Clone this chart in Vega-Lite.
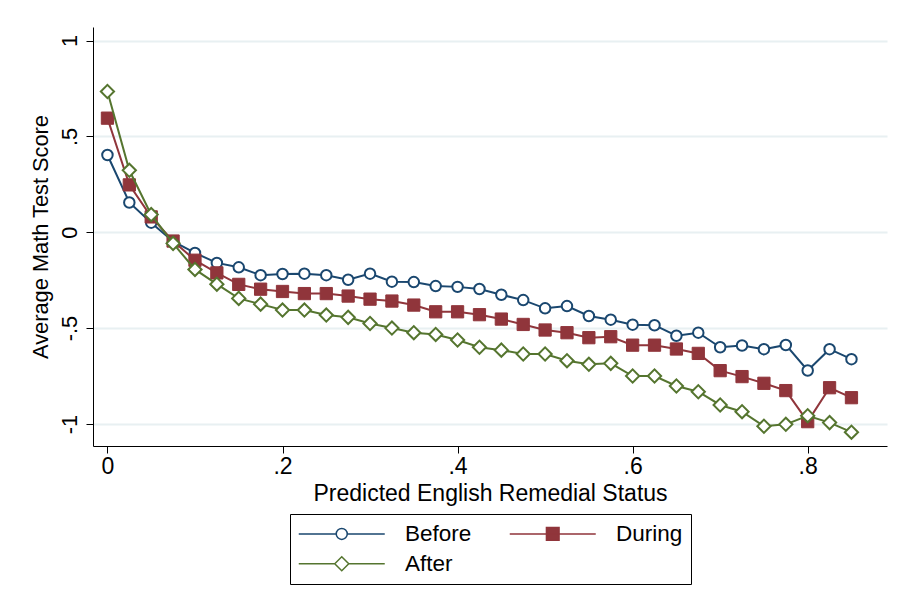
{
  "$schema": "https://vega.github.io/schema/vega-lite/v6.json",
  "autosize": {"type": "none"},
  "padding": {"left": 93, "top": 27, "right": 15, "bottom": 160},
  "width": 794,
  "height": 419,
  "background": "white",
  "data": {
    "values": [
      {"p": 0, "g": "Before", "v": 0.403},
      {"p": 0.025, "g": "Before", "v": 0.155},
      {"p": 0.05, "g": "Before", "v": 0.05},
      {"p": 0.075, "g": "Before", "v": -0.048},
      {"p": 0.1, "g": "Before", "v": -0.108},
      {"p": 0.125, "g": "Before", "v": -0.16},
      {"p": 0.15, "g": "Before", "v": -0.183},
      {"p": 0.175, "g": "Before", "v": -0.224},
      {"p": 0.2, "g": "Before", "v": -0.218},
      {"p": 0.225, "g": "Before", "v": -0.216},
      {"p": 0.25, "g": "Before", "v": -0.224},
      {"p": 0.275, "g": "Before", "v": -0.248},
      {"p": 0.3, "g": "Before", "v": -0.216},
      {"p": 0.325, "g": "Before", "v": -0.258},
      {"p": 0.35, "g": "Before", "v": -0.26},
      {"p": 0.375, "g": "Before", "v": -0.281},
      {"p": 0.4, "g": "Before", "v": -0.285},
      {"p": 0.425, "g": "Before", "v": -0.296},
      {"p": 0.45, "g": "Before", "v": -0.326},
      {"p": 0.475, "g": "Before", "v": -0.354},
      {"p": 0.5, "g": "Before", "v": -0.397},
      {"p": 0.525, "g": "Before", "v": -0.385},
      {"p": 0.55, "g": "Before", "v": -0.437},
      {"p": 0.575, "g": "Before", "v": -0.456},
      {"p": 0.6, "g": "Before", "v": -0.482},
      {"p": 0.625, "g": "Before", "v": -0.485},
      {"p": 0.65, "g": "Before", "v": -0.54},
      {"p": 0.675, "g": "Before", "v": -0.524},
      {"p": 0.7, "g": "Before", "v": -0.6},
      {"p": 0.725, "g": "Before", "v": -0.591},
      {"p": 0.75, "g": "Before", "v": -0.61},
      {"p": 0.775, "g": "Before", "v": -0.588},
      {"p": 0.8, "g": "Before", "v": -0.721},
      {"p": 0.825, "g": "Before", "v": -0.61},
      {"p": 0.85, "g": "Before", "v": -0.662},
      {"p": 0, "g": "During", "v": 0.595},
      {"p": 0.025, "g": "During", "v": 0.247},
      {"p": 0.05, "g": "During", "v": 0.08},
      {"p": 0.075, "g": "During", "v": -0.046},
      {"p": 0.1, "g": "During", "v": -0.146},
      {"p": 0.125, "g": "During", "v": -0.212},
      {"p": 0.15, "g": "During", "v": -0.272},
      {"p": 0.175, "g": "During", "v": -0.297},
      {"p": 0.2, "g": "During", "v": -0.309},
      {"p": 0.225, "g": "During", "v": -0.32},
      {"p": 0.25, "g": "During", "v": -0.32},
      {"p": 0.275, "g": "During", "v": -0.333},
      {"p": 0.3, "g": "During", "v": -0.349},
      {"p": 0.325, "g": "During", "v": -0.359},
      {"p": 0.35, "g": "During", "v": -0.38},
      {"p": 0.375, "g": "During", "v": -0.415},
      {"p": 0.4, "g": "During", "v": -0.415},
      {"p": 0.425, "g": "During", "v": -0.43},
      {"p": 0.45, "g": "During", "v": -0.453},
      {"p": 0.475, "g": "During", "v": -0.481},
      {"p": 0.5, "g": "During", "v": -0.51},
      {"p": 0.525, "g": "During", "v": -0.524},
      {"p": 0.55, "g": "During", "v": -0.55},
      {"p": 0.575, "g": "During", "v": -0.545},
      {"p": 0.6, "g": "During", "v": -0.589},
      {"p": 0.625, "g": "During", "v": -0.589},
      {"p": 0.65, "g": "During", "v": -0.609},
      {"p": 0.675, "g": "During", "v": -0.632},
      {"p": 0.7, "g": "During", "v": -0.722},
      {"p": 0.725, "g": "During", "v": -0.753},
      {"p": 0.75, "g": "During", "v": -0.788},
      {"p": 0.775, "g": "During", "v": -0.826},
      {"p": 0.8, "g": "During", "v": -0.988},
      {"p": 0.825, "g": "During", "v": -0.811},
      {"p": 0.85, "g": "During", "v": -0.863},
      {"p": 0, "g": "After", "v": 0.734},
      {"p": 0.025, "g": "After", "v": 0.323},
      {"p": 0.05, "g": "After", "v": 0.092},
      {"p": 0.075, "g": "After", "v": -0.058},
      {"p": 0.1, "g": "After", "v": -0.194},
      {"p": 0.125, "g": "After", "v": -0.271},
      {"p": 0.15, "g": "After", "v": -0.345},
      {"p": 0.175, "g": "After", "v": -0.375},
      {"p": 0.2, "g": "After", "v": -0.406},
      {"p": 0.225, "g": "After", "v": -0.406},
      {"p": 0.25, "g": "After", "v": -0.432},
      {"p": 0.275, "g": "After", "v": -0.444},
      {"p": 0.3, "g": "After", "v": -0.476},
      {"p": 0.325, "g": "After", "v": -0.5},
      {"p": 0.35, "g": "After", "v": -0.524},
      {"p": 0.375, "g": "After", "v": -0.533},
      {"p": 0.4, "g": "After", "v": -0.562},
      {"p": 0.425, "g": "After", "v": -0.6},
      {"p": 0.45, "g": "After", "v": -0.615},
      {"p": 0.475, "g": "After", "v": -0.635},
      {"p": 0.5, "g": "After", "v": -0.635},
      {"p": 0.525, "g": "After", "v": -0.67},
      {"p": 0.55, "g": "After", "v": -0.689},
      {"p": 0.575, "g": "After", "v": -0.684},
      {"p": 0.6, "g": "After", "v": -0.75},
      {"p": 0.625, "g": "After", "v": -0.75},
      {"p": 0.65, "g": "After", "v": -0.802},
      {"p": 0.675, "g": "After", "v": -0.832},
      {"p": 0.7, "g": "After", "v": -0.901},
      {"p": 0.725, "g": "After", "v": -0.936},
      {"p": 0.75, "g": "After", "v": -1.012},
      {"p": 0.775, "g": "After", "v": -1.002},
      {"p": 0.8, "g": "After", "v": -0.957},
      {"p": 0.825, "g": "After", "v": -0.993},
      {"p": 0.85, "g": "After", "v": -1.043}
    ]
  },
  "encoding": {
    "x": {
      "field": "p", "type": "quantitative",
      "scale": {"domain": [-0.0165, 0.8906], "nice": false, "zero": false},
      "axis": {
        "values": [0, 0.2, 0.4, 0.6, 0.8],
        "labelExpr": "replace(toString(datum.value), '0.', '.')",
        "grid": false,
        "title": "Predicted English Remedial Status",
        "labelFontSize": 23,
        "labelBaseline": "alphabetic",
        "labelPadding": 20,
        "titleFontSize": 23,
        "titleBaseline": "alphabetic",
        "titleY": 54
      }
    },
    "y": {
      "field": "v", "type": "quantitative",
      "scale": {"domain": [-1.115, 1.0705], "nice": false, "zero": false},
      "axis": {
        "values": [-1, -0.5, 0, 0.5, 1],
        "labelExpr": "replace(toString(datum.value), '0.', '.')",
        "grid": true,
        "title": "Average Math Test Score",
        "labelAngle": -90,
        "labelAlign": "center",
        "labelBaseline": "alphabetic",
        "labelPadding": 10,
        "labelFontSize": 21.8,
        "titleFontSize": 21.8,
        "titleAngle": -90,
        "titleBaseline": "alphabetic",
        "titleX": -46
      }
    }
  },
  "layer": [
    {
      "transform": [{"filter": "datum.g === 'Before'"}],
      "mark": {"type": "line", "strokeWidth": 2, "color": "#1a476f"},
      "encoding": {}
    },
    {
      "transform": [{"filter": "datum.g === 'Before'"}],
      "mark": {"type": "point", "shape": "circle", "size": 110, "filled": false, "stroke": "#1a476f", "fill": "white", "strokeWidth": 2, "opacity": 1},
      "encoding": {}
    },
    {
      "transform": [{"filter": "datum.g === 'During'"}],
      "mark": {"type": "line", "strokeWidth": 2, "color": "#90353b"},
      "encoding": {}
    },
    {
      "transform": [{"filter": "datum.g === 'During'"}],
      "mark": {"type": "point", "shape": "square", "size": 150, "filled": true, "fill": "#90353b", "stroke": "#90353b", "strokeWidth": 1, "opacity": 1},
      "encoding": {}
    },
    {
      "transform": [{"filter": "datum.g === 'After'"}],
      "mark": {"type": "line", "strokeWidth": 2, "color": "#55752f"},
      "encoding": {}
    },
    {
      "transform": [{"filter": "datum.g === 'After'"}],
      "mark": {"type": "point", "shape": "diamond", "size": 175, "filled": false, "stroke": "#55752f", "fill": "white", "strokeWidth": 2, "opacity": 1},
      "encoding": {}
    },
    {
      "mark": {"type": "point", "opacity": 0, "strokeWidth": 1.5},
      "encoding": {
        "shape": {
          "field": "g", "type": "nominal",
          "scale": {"domain": ["Before", "During", "After"], "range": [
            "M-8.6,0L-1.1,0M1.1,0L8.6,0M-1.1,0A1.1,1.1,0,1,1,1.1,0A1.1,1.1,0,1,1,-1.1,0Z",
            "M-8.6,0L8.6,0M-1.26,-1.26L1.26,-1.26L1.26,1.26L-1.26,1.26Z",
            "M-8.6,0L-1.4,0M1.4,0L8.6,0M-1.4,0L0,-1.4L1.4,0L0,1.4Z"
          ]},
          "legend": {"title": null}
        },
        "fill": {
          "field": "g", "type": "nominal",
          "scale": {"domain": ["Before", "During", "After"], "range": ["white", "#90353b", "white"]},
          "legend": {"title": null}
        },
        "stroke": {
          "field": "g", "type": "nominal",
          "scale": {"domain": ["Before", "During", "After"], "range": ["#1a476f", "#90353b", "#55752f"]},
          "legend": {"title": null}
        }
      }
    }
  ],
  "config": {
    "font": "Liberation Sans",
    "view": {"stroke": null},
    "axis": {
      "labelFont": "Liberation Sans",
      "titleFont": "Liberation Sans",
      "labelColor": "black",
      "titleColor": "black",
      "titleFontWeight": "normal",
      "domainColor": "black",
      "domainWidth": 1,
      "tickColor": "black",
      "tickWidth": 1,
      "tickSize": 7,
      "gridColor": "#e8f0f2",
      "gridWidth": 2
    },
    "legend": {
      "orient": "none",
      "legendX": 197,
      "legendY": 487,
      "direction": "horizontal",
      "columns": 2,
      "padding": 8.5,
      "rowPadding": 7,
      "columnPadding": 35,
      "symbolOffset": 32,
      "labelOffset": 52,
      "symbolSize": 100,
      "symbolStrokeWidth": 1.5,
      "symbolOpacity": 1,
      "labelFontSize": 22.5,
      "labelColor": "black",
      "labelFont": "Liberation Sans",
      "strokeColor": "black",
      "fillColor": "white"
    }
  }
}
